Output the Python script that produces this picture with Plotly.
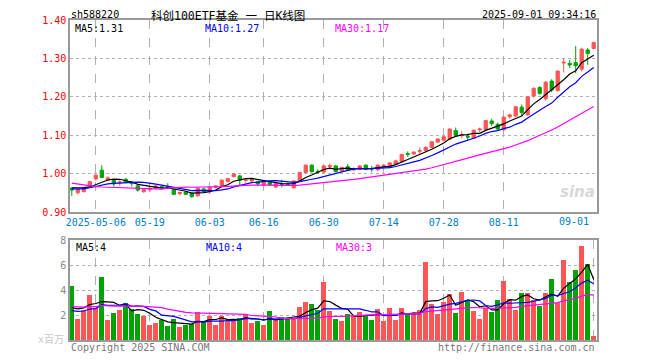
import plotly.graph_objects as go
import pandas as pd

dates = [
    "2025-04-25", "2025-04-28", "2025-04-29", "2025-04-30",
    "2025-05-06", "2025-05-07", "2025-05-08", "2025-05-09",
    "2025-05-12", "2025-05-13", "2025-05-14", "2025-05-15", "2025-05-16",
    "2025-05-19", "2025-05-20", "2025-05-21", "2025-05-22", "2025-05-23",
    "2025-05-26", "2025-05-27", "2025-05-28", "2025-05-29", "2025-05-30",
    "2025-06-03", "2025-06-04", "2025-06-05", "2025-06-06",
    "2025-06-09", "2025-06-10", "2025-06-11", "2025-06-12", "2025-06-13",
    "2025-06-16", "2025-06-17", "2025-06-18", "2025-06-19", "2025-06-20",
    "2025-06-23", "2025-06-24", "2025-06-25", "2025-06-26", "2025-06-27",
    "2025-06-30", "2025-07-01", "2025-07-02", "2025-07-03", "2025-07-04",
    "2025-07-07", "2025-07-08", "2025-07-09", "2025-07-10", "2025-07-11",
    "2025-07-14", "2025-07-15", "2025-07-16", "2025-07-17", "2025-07-18",
    "2025-07-21", "2025-07-22", "2025-07-23", "2025-07-24", "2025-07-25",
    "2025-07-28", "2025-07-29", "2025-07-30", "2025-07-31", "2025-08-01",
    "2025-08-04", "2025-08-05", "2025-08-06", "2025-08-07", "2025-08-08",
    "2025-08-11", "2025-08-12", "2025-08-13", "2025-08-14", "2025-08-15",
    "2025-08-18", "2025-08-19", "2025-08-20", "2025-08-21", "2025-08-22",
    "2025-08-25", "2025-08-26", "2025-08-27", "2025-08-28", "2025-08-29",
    "2025-09-01",
]

opens = [
    0.962, 0.950, 0.953, 0.968, 0.986, 1.009, 0.983, 0.982, 0.976, 0.985,
    0.978, 0.968, 0.953, 0.958, 0.963, 0.966, 0.966, 0.959, 0.948, 0.952,
    0.949, 0.942, 0.960, 0.953, 0.964, 0.969, 0.979, 0.992, 0.994, 0.982,
    0.981, 0.979, 0.970, 0.979, 0.965, 0.974, 0.973, 0.963, 0.981, 1.003,
    1.022, 1.006, 1.004, 1.018, 1.020, 1.007, 1.018, 1.010, 1.011, 1.022,
    1.013, 1.010, 1.018, 1.016, 1.025, 1.031, 1.052, 1.051, 1.058, 1.060,
    1.068, 1.082, 1.087, 1.090, 1.112, 1.099, 1.097, 1.092, 1.114, 1.115,
    1.137, 1.128, 1.114, 1.148, 1.150, 1.173, 1.153, 1.202, 1.224, 1.195,
    1.241, 1.216, 1.288, 1.287, 1.289, 1.272, 1.322, 1.326,
]
highs = [
    0.964, 0.961, 0.965, 0.981, 0.998, 1.022, 0.993, 0.985, 0.983, 0.989,
    0.981, 0.970, 0.961, 0.965, 0.970, 0.969, 0.975, 0.961, 0.953, 0.955,
    0.951, 0.964, 0.963, 0.966, 0.970, 0.985, 0.989, 1.001, 0.997, 0.988,
    0.987, 0.981, 0.981, 0.981, 0.977, 0.984, 0.976, 0.982, 1.004, 1.024,
    1.024, 1.011, 1.022, 1.026, 1.022, 1.018, 1.025, 1.016, 1.022, 1.024,
    1.020, 1.024, 1.025, 1.030, 1.036, 1.052, 1.058, 1.058, 1.068, 1.072,
    1.085, 1.092, 1.098, 1.118, 1.120, 1.110, 1.104, 1.115, 1.120, 1.140,
    1.143, 1.133, 1.150, 1.156, 1.176, 1.180, 1.201, 1.225, 1.228, 1.241,
    1.246, 1.269, 1.300, 1.296, 1.332, 1.328, 1.327, 1.344,
]
lows = [
    0.942, 0.946, 0.951, 0.966, 0.982, 0.988, 0.980, 0.966, 0.968, 0.975,
    0.966, 0.953, 0.950, 0.952, 0.960, 0.961, 0.959, 0.944, 0.943, 0.944,
    0.937, 0.940, 0.951, 0.947, 0.961, 0.967, 0.977, 0.990, 0.970, 0.976,
    0.978, 0.967, 0.968, 0.967, 0.962, 0.964, 0.969, 0.961, 0.980, 1.001,
    1.003, 0.999, 1.002, 1.011, 1.003, 1.005, 1.006, 1.006, 1.009, 1.009,
    1.004, 1.006, 1.015, 1.014, 1.022, 1.029, 1.043, 1.049, 1.050, 1.055,
    1.066, 1.079, 1.084, 1.088, 1.096, 1.092, 1.086, 1.090, 1.108, 1.113,
    1.124, 1.112, 1.111, 1.143, 1.147, 1.150, 1.150, 1.198, 1.205, 1.190,
    1.212, 1.214, 1.263, 1.275, 1.261, 1.266, 1.283, 1.324,
]
closes = [
    0.957, 0.959, 0.963, 0.979, 0.996, 0.990, 0.989, 0.973, 0.978, 0.977,
    0.974, 0.957, 0.959, 0.962, 0.968, 0.964, 0.963, 0.946, 0.951, 0.946,
    0.940, 0.962, 0.953, 0.964, 0.968, 0.983, 0.987, 0.999, 0.983, 0.983,
    0.985, 0.973, 0.979, 0.971, 0.975, 0.972, 0.971, 0.981, 1.003, 1.022,
    1.005, 1.004, 1.020, 1.021, 1.005, 1.016, 1.008, 1.013, 1.020, 1.011,
    1.012, 1.022, 1.022, 1.028, 1.033, 1.050, 1.050, 1.056, 1.060, 1.068,
    1.083, 1.090, 1.096, 1.116, 1.100, 1.101, 1.095, 1.113, 1.116, 1.138,
    1.130, 1.116, 1.147, 1.153, 1.174, 1.159, 1.200, 1.222, 1.209, 1.238,
    1.218, 1.267, 1.290, 1.283, 1.281, 1.324, 1.313, 1.341,
]
volumes = [
    4.32, 1.68, 2.40, 3.60, 2.59, 5.04, 1.60, 2.19, 2.40, 2.99,
    2.45, 2.08, 1.95, 1.20, 1.39, 1.60, 1.12, 1.68, 1.07, 1.20,
    1.28, 2.24, 1.55, 1.92, 1.20, 1.92, 1.55, 1.65, 1.79, 2.05,
    1.39, 1.52, 1.20, 2.35, 1.60, 1.81, 1.75, 1.70, 2.67, 3.07,
    2.88, 2.40, 4.67, 2.35, 1.65, 1.55, 2.08, 1.92, 2.27, 2.00,
    1.60, 2.48, 1.55, 2.59, 1.60, 2.59, 2.00, 2.08, 2.40, 6.27,
    2.88, 2.08, 3.07, 3.68, 2.19, 3.87, 3.20, 2.35, 1.68, 2.59,
    2.27, 3.20, 4.75, 3.31, 2.40, 3.79, 3.79, 3.20, 2.75, 3.79,
    4.85, 2.93, 6.40, 4.67, 5.60, 7.52, 6.10, 0.32,
]
# sessions before the visible window (needed for the moving averages)
hist_close = [
    1.040, 1.045, 1.048, 1.035, 1.025, 1.005, 1.000, 0.998, 0.990, 0.992,
    0.980, 0.970, 0.978, 0.980, 0.972, 0.890, 0.905, 0.925, 0.935, 0.945,
    0.960, 0.958, 0.952, 0.957, 0.960, 0.958, 0.960, 0.970, 0.968,
]
hist_vol = [
    2.6, 2.8, 2.5, 2.4, 2.3, 2.7, 2.5, 2.4, 2.6, 2.3,
    2.5, 2.6, 2.4, 2.5, 2.4, 4.8, 4.2, 4.5, 3.2, 2.4,
    2.3, 2.1, 2.0, 2.2, 2.0, 2.1, 2.0, 2.3, 2.18,
]

tick_dates = ["2025-05-06", "2025-05-19", "2025-06-03", "2025-06-16", "2025-06-30",
              "2025-07-14", "2025-07-28", "2025-08-11", "2025-09-01"]
tick_text = ["2025-05-06", "05-19", "06-03", "06-16", "06-30", "07-14", "07-28", "08-11", "09-01"]
price_ticks = [0.90, 1.00, 1.10, 1.20, 1.30, 1.40]
vol_ticks = [2, 4, 6, 8]

price_ma_labels = ["MA5:1.31", "MA10:1.27", "MA30:1.17"]
vol_ma_labels = ["MA5:4", "MA10:4", "MA30:3"]

RED = "#FF5555"
GREEN = "#00A400"
MA_COLORS = ["#000000", "#0000FF", "#FF00FF"]
MONO = "DejaVu Sans Mono, Noto Sans CJK SC, monospace"

n = len(dates)
xi = list(range(n))
nh = len(hist_close)

def mas(hist, vals, w):
    s = pd.Series(hist + vals).rolling(w).mean()
    return s.iloc[nh:].tolist()

fig = go.Figure()

fig.add_trace(go.Candlestick(
    x=xi, open=opens, high=highs, low=lows, close=closes,
    increasing=dict(line=dict(color=RED, width=1), fillcolor=RED),
    decreasing=dict(line=dict(color=GREEN, width=1), fillcolor=GREEN),
    whiskerwidth=0, xaxis="x", yaxis="y", showlegend=False,
))
for w, c in zip([5, 10, 30], MA_COLORS):
    fig.add_trace(go.Scatter(x=xi, y=mas(hist_close, closes, w), mode="lines",
                             line=dict(color=c, width=1.2), xaxis="x", yaxis="y",
                             showlegend=False))

bar_colors = [RED if c >= o else GREEN for o, c in zip(opens, closes)]
fig.add_trace(go.Bar(x=xi, y=volumes, marker=dict(color=bar_colors, line=dict(width=0)),
                     width=0.8, xaxis="x2", yaxis="y2", showlegend=False))
for w, c in zip([5, 10, 30], MA_COLORS):
    fig.add_trace(go.Scatter(x=xi, y=mas(hist_vol, volumes, w), mode="lines",
                             line=dict(color=c, width=1.2), xaxis="x2", yaxis="y2",
                             showlegend=False))

tick_idx = [dates.index(d) for d in tick_dates]
xr = [-0.3, n - 0.45]
axis_common = dict(showline=True, linecolor="#999999", linewidth=1.5, mirror=True,
                   zeroline=False, ticks="", fixedrange=True)

# the page body adds an 8px offset, so margins are set 8px smaller on the left/top
fig.update_layout(
    width=660, height=360,
    margin=dict(l=62, r=71, t=12, b=28, autoexpand=False),
    paper_bgcolor="white", plot_bgcolor="white",
    bargap=0, boxgap=0.22,
    xaxis=dict(domain=[0, 1], anchor="y", range=xr, tickvals=tick_idx[:-1],
               ticktext=tick_text[:-1], showgrid=True, gridcolor="#b0b0b0",
               griddash="dash", gridwidth=1,
               tickfont=dict(family=MONO, size=10, color="#0080CC"),
               rangeslider=dict(visible=False), **axis_common),
    yaxis=dict(domain=[0.4, 1], anchor="x", range=[0.90, 1.40], tickvals=price_ticks,
               ticktext=[f"{v:.2f}" for v in price_ticks], showgrid=True,
               gridcolor="#b0b0b0", griddash="dot", gridwidth=1,
               tickfont=dict(family=MONO, size=10, color="#FF0000"), **axis_common),
    xaxis2=dict(domain=[0, 1], anchor="y2", range=xr, tickvals=tick_idx,
                showticklabels=False, showgrid=True, gridcolor="#b0b0b0",
                griddash="dash", gridwidth=1, **axis_common),
    yaxis2=dict(domain=[0, 0.3125], anchor="x2", range=[0, 8], tickvals=vol_ticks,
                showgrid=True, gridcolor="#b0b0b0", griddash="dot", gridwidth=1,
                tickfont=dict(family=MONO, size=10, color="#888888"), **axis_common),
)

def px(xpix):
    return (xpix - 70) / 527.0

def py(ypix):
    return (340 - ypix) / 320.0

ann = []
def add(text, x, y, color="#000", size=10, xanchor="left", yanchor="middle", family=MONO, **kw):
    ann.append(dict(text=text, x=x, y=y, xref="paper", yref="paper", showarrow=False,
                    xanchor=xanchor, yanchor=yanchor,
                    font=dict(family=family, size=size, color=color), **kw))

add("sh588220", px(70), py(8.3), yanchor="top", borderpad=0)
add("科创100ETF基金 一 日K线图", px(150), py(8.1), size=11.5, yanchor="top", borderpad=0)
add("2025-09-01 09:34:16", px(597), py(8.3), xanchor="right", yanchor="top", borderpad=0)
for lbl, xp, c in zip(price_ma_labels, [74, 204, 334], MA_COLORS):
    add(lbl, px(xp), py(28.3), color=c, borderpad=0)
for lbl, xp, c in zip(vol_ma_labels, [74, 204, 334], MA_COLORS):
    add(lbl, px(xp), py(247), color=c)
add(tick_text[-1], px(591), py(221.5), color="#0080CC", xanchor="right")
add("x百万", px(66), py(339), color="#c8c8c8", xanchor="right")
add("Copyright 2025 SINA.COM", px(69), py(347), color="#777777")
add("http://finance.sina.com.cn", px(597), py(347), color="#777777", xanchor="right")
add("<b><i>sina</i></b>", px(597), py(192), color="#d8d8d8", size=15, xanchor="right",
    family="DejaVu Sans, sans-serif")
fig.update_layout(annotations=ann)

fig.write_html("out.html")
